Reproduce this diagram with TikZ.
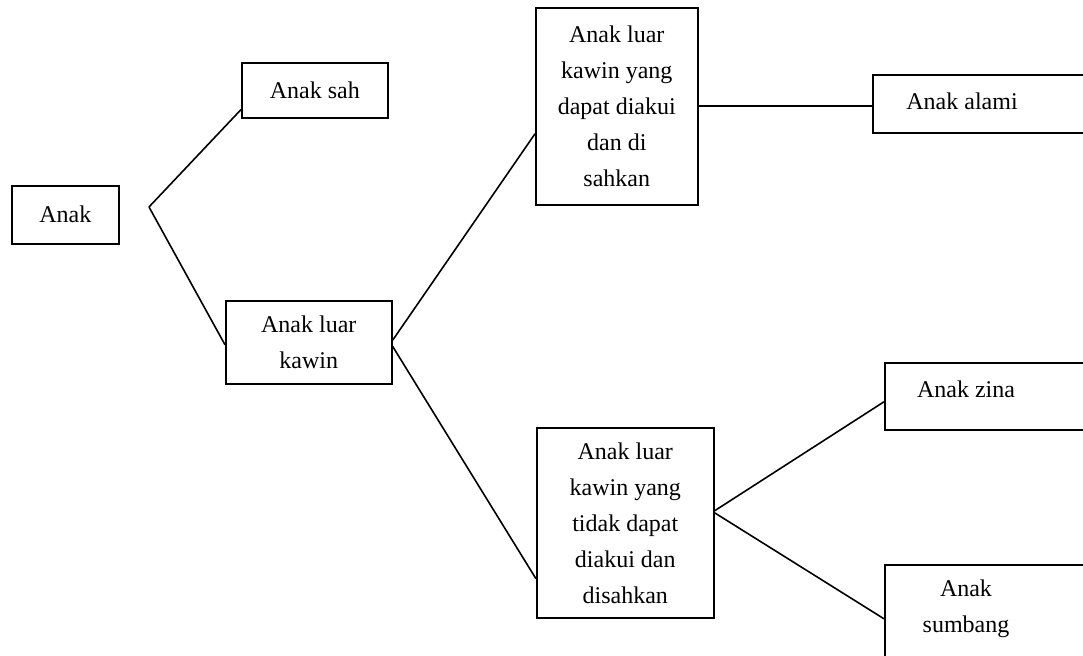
\documentclass[tikz,border=0pt]{standalone}
\usepackage{fontspec}
\setmainfont{Liberation Serif}

\begin{document}
\begin{tikzpicture}[x=0.5pt, y=-0.5pt, line width=0.8pt,
			box/.style = {draw, anchor=north west, inner sep=2pt, align=center,
			              font=\fontsize{12}{18}\selectfont},
			txt/.style = {inner sep=0pt, align=center, font=\fontsize{12}{18}\selectfont}]

			\useasboundingbox (0,0) rectangle (1083,656);
			\clip (0,0) rectangle (1083,656);

			% first level
			\node [box, minimum width=53.5pt, minimum height=29pt] (anak) at (11,185) {Anak};
			\node [box, minimum width=73pt, minimum height=27.5pt] (sah) at (241,62) {Anak sah};
			\node [box, minimum width=83pt, minimum height=41.5pt] (luar) at (225,300) {Anak luar\\kawin};
			\coordinate (fork) at (149,207);

			% second level
			\node [box, minimum width=81pt, minimum height=98.5pt] (dapat) at (535,7)
			      {Anak luar\\kawin yang\\dapat diakui\\dan di\\sahkan};
			\node [box, minimum width=88.5pt, minimum height=95pt] (tidak) at (536,427)
			      {Anak luar\\kawin yang\\tidak dapat\\diakui dan\\disahkan};

			% third level, boxes run off the right edge
			\node [box, minimum width=130pt, minimum height=29pt] (alami) at (872,74) {};
			\node [box, minimum width=130pt, minimum height=33.5pt] (zina) at (884,362) {};
			\node [box, minimum width=130pt, minimum height=68pt] (sumbang) at (884,564) {};
			\node [txt] (alamiTxt) at ([xshift=45pt, yshift=1.5pt]alami.west) {Anak alami};
			\node [txt] (zinaTxt) at ([xshift=41pt, yshift=3.75pt]zina.west) {Anak zina};
			\node [txt] (sumbangTxt) at ([xshift=41pt, yshift=12pt]sumbang.west) {Anak\\sumbang};

			% connectors
			\draw (fork) -- ([yshift=4.5pt]sah.south west);
			\draw (fork) -- ([yshift=-1.25pt]luar.west);
			\draw ([yshift=1pt]luar.east) -- ([yshift=-13.75pt]dapat.west);
			\draw ([yshift=-2pt]luar.east) -- ([yshift=-28pt]tidak.west);
			\draw (dapat.east) -- (dapat.east -| alami.west);
			\draw ([yshift=6pt]tidak.east) -- ([yshift=-2.75pt]zina.west);
			\draw ([yshift=5pt]tidak.east) -- ([yshift=7pt]sumbang.west);
		\end{tikzpicture}
\end{document}
